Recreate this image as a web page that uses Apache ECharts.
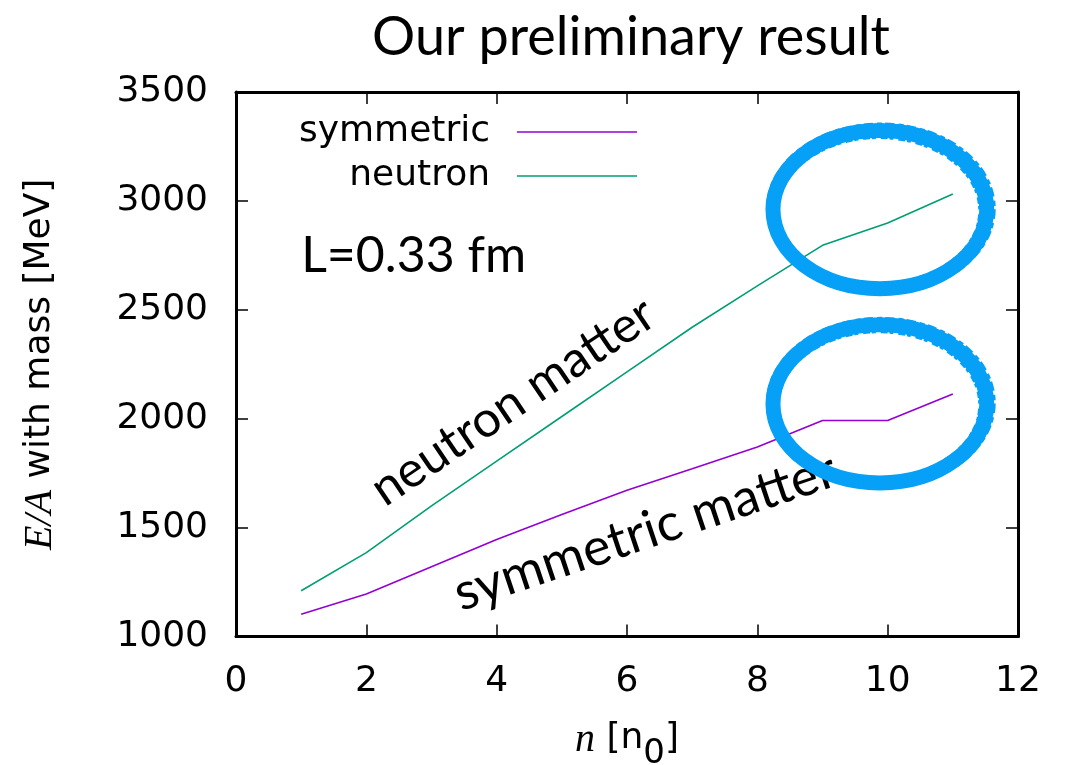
<!DOCTYPE html>
<html><head><meta charset="utf-8">
<script src="https://cdn.jsdelivr.net/npm/echarts@6/dist/echarts.min.js"></script>
<style>html,body{margin:0;padding:0;background:#fff}#c{width:1072px;height:765px}</style>
</head><body><div id="c"></div>
<script>
// ---- data ----
const densities   = [1, 2, 3, 4, 5, 6, 7, 8, 9, 10, 11];            // n [n0]
const symmetricEA = [1102, 1195, 1320, 1445, 1560, 1672, 1770, 1870, 1992, 1992, 2113];
const neutronEA   = [1210, 1385, 1600, 1805, 2010, 2215, 2420, 2610, 2796, 2899, 3032];
const xTicks = [0, 2, 4, 6, 8, 10, 12];
const yTicks = [1000, 1500, 2000, 2500, 3000, 3500];
const seriesNames = ['symmetric', 'neutron'];

const SANS = 'DejaVu Sans';
const GILL = 'Lato';
const chart = echarts.init(document.getElementById('c'), null, {renderer: 'canvas'});

const frame = {show: true, onZero: false, lineStyle: {color: '#000', width: 3}};
const ticks = {show: true, inside: true, length: 12, lineStyle: {color: '#000', width: 1.5}};
const tickLabel = {fontFamily: SANS, fontSize: 36, color: '#000', formatter: v => String(v)};

const xRange = {min: xTicks[0], max: xTicks[xTicks.length - 1], interval: xTicks[1] - xTicks[0]};
const yRange = {min: yTicks[0], max: yTicks[yTicks.length - 1], interval: yTicks[1] - yTicks[0]};

chart.setOption({
  animation: false,
  backgroundColor: '#fff',
  title: {
    text: 'Our preliminary result', left: 626, top: 6, textAlign: 'center',
    textStyle: {fontFamily: GILL, fontSize: 54, fontWeight: 'normal', color: '#000'}
  },
  grid: {left: 236, right: 54, top: 92, bottom: 128.5, containLabel: false, outerBoundsMode: 'none'},
  legend: {
    orient: 'vertical', right: 435, top: 114, align: 'right', padding: 0,
    icon: 'rect', itemWidth: 120, itemHeight: 1.6, itemGap: 8,
    textStyle: {fontFamily: SANS, fontSize: 36, color: '#000', lineHeight: 36, padding: [0, 22, 0, 0]},
    data: seriesNames
  },
  xAxis: [
    Object.assign({type: 'value', position: 'bottom', axisLine: frame, axisTick: ticks,
      axisLabel: Object.assign({margin: 27}, tickLabel), splitLine: {show: false},
      name: '{i|n}{b| [n}{s|0}{b|]}', nameLocation: 'middle', nameGap: 84,
      nameTextStyle: {fontFamily: SANS, fontSize: 36, color: '#000', rich: {
        i: {fontFamily: 'Liberation Serif', fontStyle: 'italic', fontSize: 40, lineHeight: 40, verticalAlign: 'top'},
        b: {fontFamily: SANS, fontSize: 36, lineHeight: 40, verticalAlign: 'top'},
        s: {fontFamily: SANS, fontSize: 34, lineHeight: 34, padding: [17, 0, 0, 0], verticalAlign: 'top'}
      }}}, xRange),
    Object.assign({type: 'value', position: 'top', axisLine: frame, axisTick: ticks,
      axisLabel: {show: false}, splitLine: {show: false}}, xRange)
  ],
  yAxis: [
    Object.assign({type: 'value', position: 'left', axisLine: frame, axisTick: ticks,
      axisLabel: Object.assign({margin: 28}, tickLabel), splitLine: {show: false},
      name: '{i|E/A} with mass [MeV]', nameLocation: 'middle', nameGap: 176, nameRotate: 90,
      nameTextStyle: {fontFamily: SANS, fontSize: 36, color: '#000', rich: {
        i: {fontFamily: 'Liberation Serif', fontStyle: 'italic', fontSize: 40}
      }}}, yRange),
    Object.assign({type: 'value', position: 'right', axisLine: frame, axisTick: ticks,
      axisLabel: {show: false}, splitLine: {show: false}}, yRange)
  ],
  series: [
    {name: seriesNames[0], type: 'line', symbol: 'none', z: 2,
     color: '#9400d3', lineStyle: {width: 1.6, color: '#9400d3'},
     data: densities.map((d, i) => [d, symmetricEA[i]])},
    {name: seriesNames[1], type: 'line', symbol: 'none', z: 2,
     color: '#009e73', lineStyle: {width: 1.6, color: '#009e73'},
     data: densities.map((d, i) => [d, neutronEA[i]])}
  ]
});

// ---- annotations placed in data coordinates ----
const px = (x, y) => chart.convertToPixel({gridIndex: 0}, [x, y]);
const deg = Math.PI / 180;
function label(text, at, size, rot, align) {
  const p = px(at[0], at[1]);
  return {type: 'text', x: p[0], y: p[1], rotation: rot * deg, z: 5,
    style: {text: text, fontFamily: GILL, fontSize: size, fill: '#000',
      align: align, verticalAlign: 'middle', textAlign: align, textVerticalAlign: 'middle'}};
}
function ring(center, radius) {
  const c = px(center[0], center[1]);
  const e = px(center[0] + radius[0], center[1] + radius[1]);
  const rx = Math.abs(e[0] - c[0]), ry = Math.abs(e[1] - c[1]);
  return [
    {type: 'ellipse', z: 10, shape: {cx: c[0], cy: c[1], rx: rx, ry: ry},
     style: {fill: 'none', stroke: '#06a0f7', lineWidth: 15}},
    {type: 'ellipse', z: 10, shape: {cx: c[0] + 1, cy: c[1] - 1, rx: rx + 3, ry: ry + 2},
     style: {fill: 'none', stroke: '#06a0f7', lineWidth: 10, lineDash: [5, 3, 9, 4]}},
    {type: 'ellipse', z: 10, shape: {cx: c[0] - 1, cy: c[1] + 1, rx: rx - 3, ry: ry - 3},
     style: {fill: 'none', stroke: '#06a0f7', lineWidth: 9, lineDash: [7, 2, 4, 5]}}
  ];
}
chart.setOption({graphic: [
  label('L=0.33 fm', [1.0, 2749], 50, 0, 'left'),
  label('neutron matter', [4.25, 2078], 50, 34, 'center'),
  label('symmetric matter', [6.28, 1480], 52, 18.5, 'center')
].concat(ring([9.88, 2960], [1.64, 363]), ring([9.88, 2068], [1.64, 363]))});
</script></body></html>
